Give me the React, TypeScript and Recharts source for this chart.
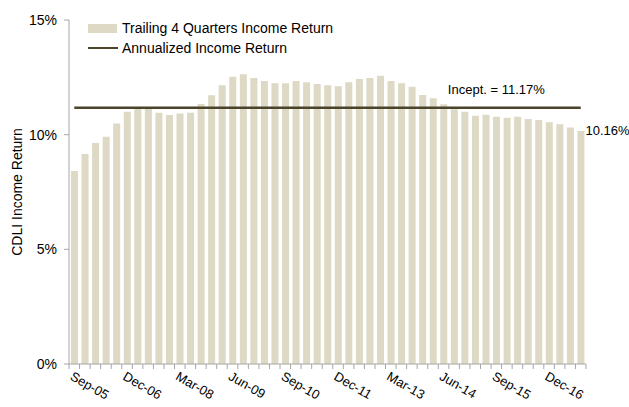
import { Bar, ComposedChart, LabelList, Line, XAxis, YAxis } from "recharts";

const QUARTERS = [
  "Sep-05", "Dec-05", "Mar-06", "Jun-06", "Sep-06", "Dec-06", "Mar-07", "Jun-07",
  "Sep-07", "Dec-07", "Mar-08", "Jun-08", "Sep-08", "Dec-08", "Mar-09", "Jun-09",
  "Sep-09", "Dec-09", "Mar-10", "Jun-10", "Sep-10", "Dec-10", "Mar-11", "Jun-11",
  "Sep-11", "Dec-11", "Mar-12", "Jun-12", "Sep-12", "Dec-12", "Mar-13", "Jun-13",
  "Sep-13", "Dec-13", "Mar-14", "Jun-14", "Sep-14", "Dec-14", "Mar-15", "Jun-15",
  "Sep-15", "Dec-15", "Mar-16", "Jun-16", "Sep-16", "Dec-16", "Mar-17", "Jun-17",
  "Sep-17",
];

// trailing 4 quarters income return, %
const TRAILING_RETURN = [
  8.42, 9.16, 9.64, 9.91, 10.49, 11.0, 11.18, 11.2,
  10.96, 10.86, 10.92, 10.96, 11.34, 11.72, 12.15, 12.53,
  12.63, 12.47, 12.34, 12.24, 12.24, 12.34, 12.29, 12.21,
  12.15, 12.11, 12.29, 12.43, 12.47, 12.57, 12.34, 12.24,
  12.09, 11.73, 11.59, 11.33, 11.11, 11.0, 10.83, 10.87,
  10.78, 10.74, 10.78, 10.68, 10.64, 10.54, 10.45, 10.31,
  10.16,
];

const INCEPTION_RETURN = 11.17;
const Y_TICKS = [0, 5, 10, 15];
const LABEL_EVERY = 5;

const FONT = "'Liberation Sans', Arial, sans-serif";
const BAR_COLOR = "#DDD9C4";
const LINE_COLOR = "#4A452A";
const AXIS_COLOR = "#a6a6a6";

const WIDTH = 629;
const HEIGHT = 407;
const MARGIN = { top: 20, right: 43, bottom: 0, left: 0 };
const Y_AXIS_WIDTH = 69;
const X_AXIS_HEIGHT = 43;

const data = QUARTERS.map((quarter, i) => ({
  quarter,
  trailing: TRAILING_RETURN[i],
  inception: INCEPTION_RETURN,
}));

// Excel-style category axis: ticks sit between the bars
function QuarterTick(props: any) {
  const { x, y, payload, index } = props;
  const fallback = (WIDTH - MARGIN.right - Y_AXIS_WIDTH) / QUARTERS.length / 2;
  const half = payload?.offset || fallback;
  const tx = x - 5;
  const ty = y + 15;
  return (
    <g>
      <line x1={x - half} x2={x - half} y1={y} y2={y + 5} stroke={AXIS_COLOR} />
      {index === QUARTERS.length - 1 && (
        <line x1={x + half} x2={x + half} y1={y} y2={y + 5} stroke={AXIS_COLOR} />
      )}
      {index % LABEL_EVERY === 0 && (
        <text
          x={tx}
          y={ty}
          transform={`rotate(30, ${tx}, ${ty})`}
          fontSize={13}
          fontFamily={FONT}
          fill="#000"
        >
          {payload.value}
        </text>
      )}
    </g>
  );
}

function YAxisTitle(props: any) {
  const { viewBox } = props;
  const cx = viewBox.x + 17;
  const cy = viewBox.y + viewBox.height / 2;
  return (
    <text
      x={cx}
      y={cy}
      transform={`rotate(-90, ${cx}, ${cy})`}
      textAnchor="middle"
      dominantBaseline="central"
      fontSize={14}
      fontFamily={FONT}
      fill="#000"
    >
      CDLI Income Return
    </text>
  );
}

function InceptionLabel(props: any) {
  const { x, y, index, value } = props;
  if (index !== 40) return null;
  return (
    <text
      x={x}
      y={y - 18}
      textAnchor="middle"
      dominantBaseline="central"
      fontSize={13}
      fontFamily={FONT}
      fill="#000"
    >
      {`Incept. = ${Number(value).toFixed(2)}%`}
    </text>
  );
}

function LastBarLabel(props: any) {
  const { x, y, width, index, value } = props;
  if (index !== QUARTERS.length - 1) return null;
  return (
    <text
      x={x + width + 1}
      y={y}
      dominantBaseline="central"
      fontSize={13}
      fontFamily={FONT}
      fill="#000"
    >
      {`${Number(value).toFixed(2)}%`}
    </text>
  );
}

function ChartLegend() {
  const row = { display: "flex", alignItems: "center", height: 20 } as const;
  return (
    <div
      style={{
        position: "absolute",
        left: 88,
        top: 18,
        fontFamily: FONT,
        fontSize: 14,
        color: "#000",
      }}
    >
      <div style={row}>
        <span style={{ width: 29, height: 9, background: BAR_COLOR, marginRight: 5 }} />
        Trailing 4 Quarters Income Return
      </div>
      <div style={row}>
        <span style={{ width: 30, height: 2.5, background: LINE_COLOR, marginRight: 4 }} />
        Annualized Income Return
      </div>
    </div>
  );
}

export default function App() {
  return (
    <div
      style={{
        position: "absolute",
        left: 0,
        top: 0,
        width: WIDTH,
        height: HEIGHT,
        background: "#fff",
      }}
    >
      <ComposedChart width={WIDTH} height={HEIGHT} data={data} margin={MARGIN}>
        <XAxis
          dataKey="quarter"
          height={X_AXIS_HEIGHT}
          interval={0}
          tickSize={0}
          tickMargin={0}
          tickLine={false}
          axisLine={{ stroke: AXIS_COLOR }}
          tick={<QuarterTick />}
        />
        <YAxis
          width={Y_AXIS_WIDTH}
          domain={[0, 15]}
          ticks={Y_TICKS}
          tickFormatter={(v) => `${v}%`}
          tickSize={5}
          tickMargin={7}
          axisLine={{ stroke: AXIS_COLOR }}
          tickLine={{ stroke: AXIS_COLOR }}
          tick={{ fontSize: 14, fontFamily: FONT, fill: "#000" }}
          label={<YAxisTitle />}
        />
        <Bar dataKey="trailing" fill={BAR_COLOR} barSize={7} isAnimationActive={false}>
          <LabelList dataKey="trailing" content={<LastBarLabel />} />
        </Bar>
        <Line
          type="linear"
          dataKey="inception"
          stroke={LINE_COLOR}
          strokeWidth={2.5}
          dot={false}
          activeDot={false}
          isAnimationActive={false}
        >
          <LabelList dataKey="inception" content={<InceptionLabel />} />
        </Line>
      </ComposedChart>
      <ChartLegend />
    </div>
  );
}
